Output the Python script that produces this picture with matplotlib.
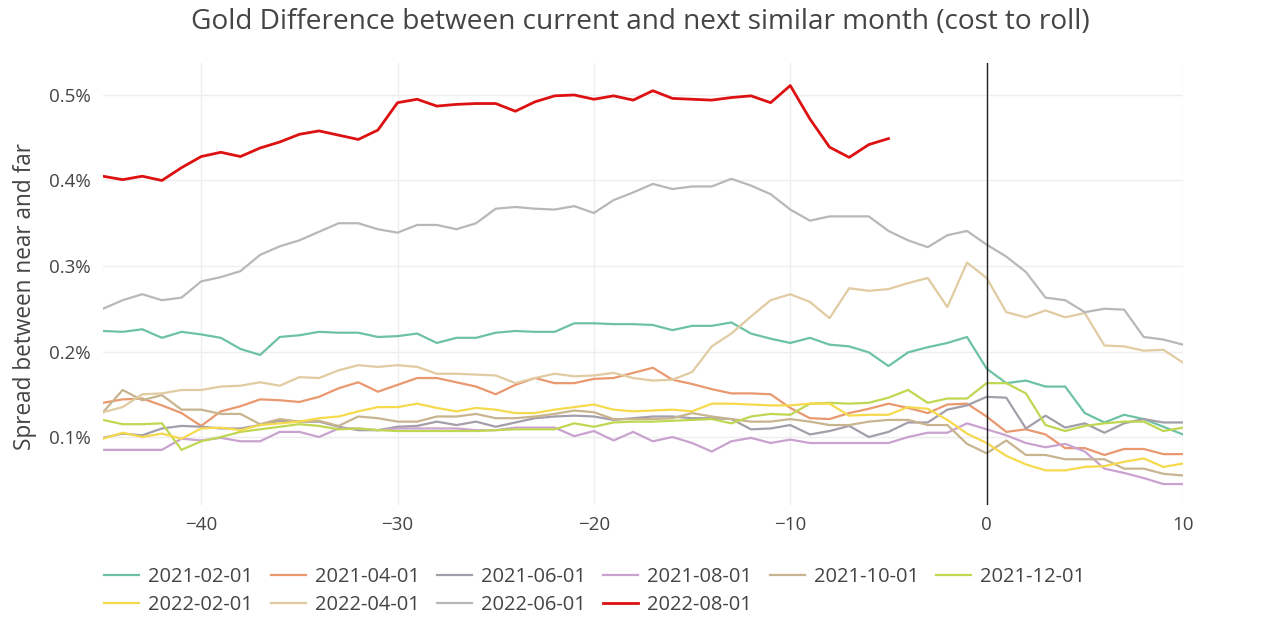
#!/usr/bin/env python3
"""
Gold cost to roll: spread between current and next similar contract month
"""

import numpy as np
import matplotlib.pyplot as plt
from matplotlib.ticker import FuncFormatter

# days relative to roll date
offsets = list(range(-45, 11))

# spread in percent, one list per contract month
c_2021_02 = [0.224, 0.223, 0.226, 0.216, 0.223, 0.220, 0.216, 0.203, 0.196, 0.217,
             0.219, 0.223, 0.222, 0.222, 0.217, 0.218, 0.221, 0.210, 0.216, 0.216,
             0.222, 0.224, 0.223, 0.223, 0.233, 0.233, 0.232, 0.232, 0.231, 0.225,
             0.230, 0.230, 0.234, 0.221, 0.215, 0.210, 0.216, 0.208, 0.206, 0.199,
             0.183, 0.199, 0.205, 0.210, 0.217, 0.180, 0.163, 0.166, 0.159, 0.159,
             0.128, 0.117, 0.126, 0.121, 0.112, 0.103]
c_2021_04 = [0.140, 0.144, 0.145, 0.137, 0.128, 0.113, 0.130, 0.136, 0.144, 0.143,
             0.141, 0.147, 0.157, 0.164, 0.153, 0.161, 0.169, 0.169, 0.164, 0.159,
             0.150, 0.161, 0.169, 0.163, 0.163, 0.168, 0.169, 0.175, 0.181, 0.167,
             0.162, 0.156, 0.151, 0.151, 0.150, 0.134, 0.122, 0.121, 0.128, 0.133,
             0.139, 0.134, 0.128, 0.138, 0.139, 0.124, 0.106, 0.109, 0.103, 0.087,
             0.087, 0.079, 0.086, 0.086, 0.080, 0.080]
c_2021_06 = [0.099, 0.104, 0.102, 0.110, 0.113, 0.112, 0.110, 0.110, 0.114, 0.119,
             0.118, 0.118, 0.112, 0.108, 0.108, 0.112, 0.113, 0.118, 0.114, 0.118,
             0.112, 0.117, 0.122, 0.124, 0.125, 0.124, 0.120, 0.122, 0.124, 0.124,
             0.122, 0.122, 0.121, 0.109, 0.110, 0.114, 0.103, 0.107, 0.113, 0.100,
             0.106, 0.117, 0.117, 0.132, 0.137, 0.147, 0.146, 0.110, 0.125, 0.111,
             0.116, 0.105, 0.116, 0.121, 0.117, 0.117]
c_2021_08 = [0.085, 0.085, 0.085, 0.085, 0.098, 0.096, 0.099, 0.095, 0.095, 0.106,
             0.106, 0.100, 0.110, 0.110, 0.108, 0.110, 0.110, 0.110, 0.110, 0.108,
             0.108, 0.111, 0.111, 0.111, 0.101, 0.107, 0.096, 0.106, 0.095, 0.100,
             0.093, 0.083, 0.095, 0.099, 0.093, 0.097, 0.093, 0.093, 0.093, 0.093,
             0.093, 0.100, 0.105, 0.105, 0.116, 0.109, 0.102, 0.093, 0.088, 0.092,
             0.083, 0.063, 0.058, 0.052, 0.045, 0.045]
c_2021_10 = [0.129, 0.155, 0.143, 0.149, 0.132, 0.132, 0.127, 0.127, 0.115, 0.121,
             0.118, 0.119, 0.113, 0.124, 0.122, 0.118, 0.118, 0.124, 0.124, 0.127,
             0.122, 0.122, 0.124, 0.127, 0.131, 0.129, 0.121, 0.121, 0.121, 0.122,
             0.128, 0.124, 0.121, 0.118, 0.118, 0.121, 0.118, 0.114, 0.114, 0.118,
             0.120, 0.120, 0.114, 0.114, 0.092, 0.081, 0.096, 0.079, 0.079, 0.074,
             0.074, 0.074, 0.063, 0.063, 0.057, 0.055]
c_2021_12 = [0.120, 0.115, 0.115, 0.116, 0.085, 0.095, 0.100, 0.106, 0.109, 0.112,
             0.115, 0.113, 0.109, 0.110, 0.108, 0.107, 0.107, 0.107, 0.107, 0.107,
             0.108, 0.109, 0.109, 0.109, 0.116, 0.112, 0.117, 0.118, 0.118, 0.119,
             0.120, 0.121, 0.116, 0.124, 0.127, 0.126, 0.139, 0.140, 0.139, 0.140,
             0.146, 0.155, 0.140, 0.145, 0.145, 0.163, 0.163, 0.151, 0.114, 0.107,
             0.113, 0.116, 0.118, 0.118, 0.107, 0.111]
c_2022_02 = [0.098, 0.105, 0.100, 0.104, 0.098, 0.110, 0.111, 0.108, 0.114, 0.116,
             0.118, 0.122, 0.124, 0.130, 0.135, 0.135, 0.139, 0.134, 0.130, 0.134,
             0.132, 0.128, 0.128, 0.132, 0.135, 0.138, 0.132, 0.130, 0.131, 0.132,
             0.130, 0.139, 0.139, 0.138, 0.137, 0.137, 0.139, 0.139, 0.125, 0.126,
             0.126, 0.135, 0.133, 0.120, 0.104, 0.093, 0.078, 0.068, 0.061, 0.061,
             0.065, 0.066, 0.071, 0.075, 0.065, 0.069]
c_2022_04 = [0.129, 0.135, 0.150, 0.151, 0.155, 0.155, 0.159, 0.160, 0.164, 0.160,
             0.170, 0.169, 0.178, 0.184, 0.182, 0.184, 0.182, 0.174, 0.174, 0.173,
             0.172, 0.163, 0.169, 0.174, 0.171, 0.172, 0.175, 0.169, 0.166, 0.167,
             0.176, 0.206, 0.221, 0.241, 0.260, 0.267, 0.258, 0.239, 0.274, 0.271,
             0.273, 0.280, 0.286, 0.252, 0.304, 0.286, 0.246, 0.240, 0.248, 0.240,
             0.245, 0.207, 0.206, 0.201, 0.202, 0.187]
c_2022_06 = [0.250, 0.260, 0.267, 0.260, 0.263, 0.282, 0.287, 0.294, 0.313, 0.323,
             0.330, 0.340, 0.350, 0.350, 0.343, 0.339, 0.348, 0.348, 0.343, 0.350,
             0.367, 0.369, 0.367, 0.366, 0.370, 0.362, 0.377, 0.386, 0.396, 0.390,
             0.393, 0.393, 0.402, 0.394, 0.384, 0.366, 0.353, 0.358, 0.358, 0.358,
             0.341, 0.330, 0.322, 0.336, 0.341, 0.325, 0.311, 0.293, 0.263, 0.260,
             0.246, 0.250, 0.249, 0.217, 0.214, 0.208]
# current contract, only up to today
c_2022_08 = [0.405, 0.401, 0.405, 0.400, 0.415, 0.428, 0.433, 0.428, 0.438, 0.445,
             0.454, 0.458, 0.453, 0.448, 0.459, 0.491, 0.495, 0.487, 0.489, 0.490,
             0.490, 0.481, 0.492, 0.499, 0.500, 0.495, 0.499, 0.494, 0.505, 0.496,
             0.495, 0.494, 0.497, 0.499, 0.491, 0.511, 0.472, 0.439, 0.427, 0.442,
             0.449]

labels = ['2021-02-01', '2021-04-01', '2021-06-01', '2021-08-01', '2021-10-01',
          '2021-12-01', '2022-02-01', '2022-04-01', '2022-06-01', '2022-08-01']
series = [c_2021_02, c_2021_04, c_2021_06, c_2021_08, c_2021_10,
          c_2021_12, c_2022_02, c_2022_04, c_2022_06, c_2022_08]
colors = ['#6dc2a4', '#e9986f', '#a49eaa', '#c9a2cf', '#c8b48f',
          '#c0d752', '#f6da4e', '#e1cba2', '#b8b8b8', '#dd1111']

plt.rcParams['font.family'] = ['Open Sans', 'DejaVu Sans']
text_color = '#444444'

fig = plt.figure(figsize=(12.8, 6.41), dpi=100)
ax = fig.add_axes([103 / 1280, 1 - 505 / 641, 1080 / 1280, 442 / 641])

handles = []
for lab, vals, col in zip(labels, series, colors):
    lw = 2.0 if lab == '2022-08-01' else 1.6
    h, = ax.plot(offsets[:len(vals)], vals, color=col, linewidth=lw, label=lab)
    handles.append(h)

# roll date marker
ax.axvline(0, color='#222222', linewidth=1.0, zorder=5)

ax.set_xlim(-45, 10)
ax.set_ylim(0.0205, 0.5374)
ax.set_xticks([-40, -30, -20, -10, 0, 10])
ax.set_yticks([0.1, 0.2, 0.3, 0.4, 0.5])
ax.yaxis.set_major_formatter(FuncFormatter(lambda v, p: f'{v:.1f}%'))
ax.grid(color='#eeeeee', linewidth=1.0)
ax.set_axisbelow(True)
for s in ax.spines.values():
    s.set_visible(False)
ax.tick_params(length=0, labelsize=13.5, labelcolor=text_color)
ax.tick_params(axis='x', pad=8)
ax.tick_params(axis='y', pad=9)

fig.text(0.5, 1 - 22 / 641, 'Gold Difference between current and next similar month (cost to roll)',
         ha='center', va='center', fontsize=20.2, color=text_color)
fig.text(25 / 1280, 1 - 297 / 641, 'Spread between near and far', rotation=90,
         ha='center', va='center', fontsize=16.3, color=text_color)

# legend laid out row by row: 6 in first row, 4 in second
row1, row2 = handles[:6], handles[6:]
order = []
for i in range(6):
    order.append(row1[i])
    if i < len(row2):
        order.append(row2[i])
leg = fig.legend(handles=order, labels=[h.get_label() for h in order],
                 loc='upper left', bbox_to_anchor=(86 / 1280, 1 - 549 / 641),
                 ncol=6, frameon=False, fontsize=14.5, handlelength=1.74,
                 handletextpad=0.45, columnspacing=0.86, labelspacing=0.4)
for t in leg.get_texts():
    t.set_color(text_color)

plt.savefig('out.png', dpi=100)
plt.close()
